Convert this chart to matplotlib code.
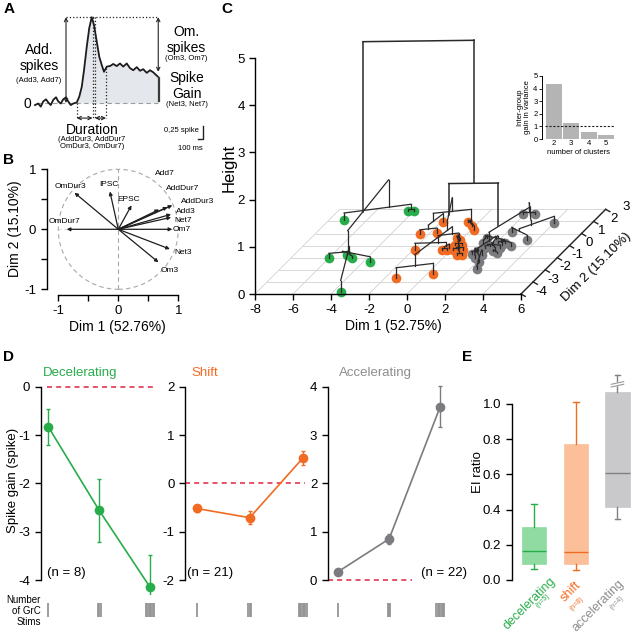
import matplotlib

matplotlib.use("Agg")
import matplotlib.pyplot as plt
import numpy as np
from matplotlib.patches import Circle

plt.rcParams["font.family"] = ["Liberation Sans", "DejaVu Sans"]
plt.rcParams["axes.linewidth"] = 1.0
plt.rcParams["axes.unicode_minus"] = False

W, H = 632, 639
GREEN = "#27ad4a"
ORANGE = "#f26b22"
GRAY = "#7b7b80"
RED = "#e2334f"

# ---- A: schematic PSTH (time in ms, rate in spikes)
trace_t = [-840, -775, -725, -675, -620, -575, -525, -475, -420, -375, -325, -275, -220,
           -175, -125, -75, -5, 45, 95, 140, 195, 245, 295, 340, 395, 445, 495, 540, 595,
           660, 725, 795, 860, 925, 995, 1060, 1125, 1195, 1260, 1325, 1395, 1460, 1525,
           1580, 1615]
trace_v = [-0.04, -0.01, -0.07, 0.03, 0.07, 0.01, -0.04, 0.06, 0.11, 0.03, -0.01, 0.07, 0.11,
           0.03, -0.04, -0.01, 0.01, 0.12, 0.31, 0.63, 1.08, 1.44, 1.65, 1.50, 1.18, 0.89,
           0.73, 0.60, 0.70, 0.71, 0.75, 0.71, 0.76, 0.70, 0.76, 0.67, 0.63, 0.69, 0.62,
           0.65, 0.58, 0.63, 0.59, 0.54, 0.51]
onset_t = -5
dur_marks = [310, 360, 580]

# ---- B: PCA variable loadings
load_names = ["OmDur3", "IPSC", "EPSC", "Add7", "AddDur7", "AddDur3", "Add3", "Net7",
              "Om7", "Net3", "Om3", "OmDur7"]
load_d1 = [-0.73, -0.14, 0.22, 0.68, 0.82, 0.90, 0.88, 0.88, 0.90, 0.86, 0.67, -0.86]
load_d2 = [0.61, 0.63, 0.40, 0.33, 0.37, 0.40, 0.25, 0.20, 0.0, -0.33, -0.55, 0.0]

# ---- C: cells on the factor map, and the hierarchical tree
green_d1 = [-7.2, -4.3, -4.0, -6.0, -5.24, -4.8, -3.6, -3.58]
green_d2 = [2.11, 2.83, 2.83, -1.03, -0.75, -1.03, -1.39, -3.86]
orange_d1 = [-1.87, -0.56, -0.17, 0.13, -2.45, -1.66, -1.88, -0.47, -0.21, -0.34, -0.08,
             -0.07, 0.28, 0.10, 0.36, 0.62, 0.55, 0.81, -0.20, 0.32, -1.41]
orange_d2 = [1.94, 1.94, 1.61, 1.33, 0.92, 1.06, -0.39, -0.39, -0.39, 0.64, 0.50, 0.08,
             0.08, -0.33, -0.33, -0.33, -0.75, -0.75, -0.19, -2.33, -2.69]
gray_d1 = [1.93, 2.55, 4.03, 2.26, 3.43, 1.27, 2.11, 2.38, 2.96, 1.28, 1.50, 1.68, 1.32,
           2.29, 2.56, 1.86, 2.14, 2.36, 1.86, 2.47, 1.68, 2.46]
gray_d2 = [2.58, 2.58, 1.83, 1.11, 0.50, 0.64, 0.23, 0.08, -0.06, -0.67, -0.47, -0.19, 0.23,
           -0.47, -0.61, -0.75, -1.39, -1.94, -0.06, -0.19, -1.03, 0.23]
# merges: (node a, node b, height); leaves 0-50, new nodes numbered from 51
merges = [
    (1, 2, 0.05), (4, 5, 0.05), (52, 3, 0.10), (53, 6, 0.12), (54, 7, 0.25), (0, 51, 0.15),
    (55, 56, 0.73),
    (9, 10, 0.04), (58, 11, 0.08), (12, 13, 0.10), (60, 8, 0.18), (59, 61, 0.35),
    (15, 16, 0.04), (63, 26, 0.08), (64, 14, 0.15), (17, 18, 0.03), (19, 20, 0.03),
    (21, 22, 0.03), (68, 23, 0.05), (24, 25, 0.04), (66, 67, 0.07), (69, 70, 0.08),
    (71, 72, 0.14), (65, 73, 0.30), (27, 28, 0.22), (74, 75, 0.45), (62, 76, 0.64),
    (29, 30, 0.05), (32, 33, 0.10), (79, 31, 0.15), (78, 80, 0.25), (35, 50, 0.03),
    (82, 36, 0.05), (83, 37, 0.08), (41, 34, 0.05), (47, 40, 0.04), (86, 48, 0.06),
    (38, 39, 0.04), (88, 49, 0.06), (42, 43, 0.03), (45, 46, 0.06), (91, 44, 0.10),
    (89, 92, 0.13), (90, 87, 0.10), (84, 85, 0.10), (94, 95, 0.15), (93, 96, 0.20),
    (81, 97, 0.38),
    (77, 98, 1.30), (57, 99, 4.33),
]
n_clusters = [2, 3, 4, 5]
var_gain = [4.35, 1.28, 0.55, 0.30]

# ---- D: spike gain vs number of GrC stims
stim_counts = [1, 3, 7]
dec_mean = [-0.83, -2.56, -4.15]
dec_err = [0.37, 0.65, 0.66]
shift_mean = [-0.52, -0.71, 0.52]
shift_err = [0.08, 0.14, 0.15]
acc_mean = [0.17, 0.85, 3.59]
acc_err = [0.04, 0.10, 0.42]

# ---- E: EI ratio per group
ei_groups = ["decelerating", "shift", "accelerating"]
ei_n = [5, 8, 4]
ei_lo = [0.06, 0.058, 0.345]
ei_q1 = [0.089, 0.091, 0.417]
ei_med = [0.166, 0.161, 0.61]
ei_q3 = [0.30, 0.771, 1.07]
ei_hi = [0.43, 1.013, 1.165]

fig = plt.figure(figsize=(W / 100, H / 100), dpi=100)


def px_axes(left, top, right, bottom):
    return fig.add_axes([left / W, 1 - bottom / H, (right - left) / W, (bottom - top) / H])


def ftext(x, y, s, **kw):
    kw.setdefault("ha", "center")
    kw.setdefault("va", "center")
    fig.text(x / W, 1 - y / H, s, **kw)


for lab, x, y in [("A", 9, 9), ("B", 9, 160), ("C", 227, 9), ("D", 9, 357), ("E", 467, 357)]:
    ftext(x, y, lab, fontsize=11, fontweight="bold")

# ================= A
axA = px_axes(20, 10, 215, 155)
axA.set_xlim(-1140, 2760)
axA.set_ylim(-1.0, 1.788)
axA.axis("off")
t = np.array(trace_t)
v = np.array(trace_v)
on = t >= onset_t
axA.fill_between(t[on], 0, v[on], color="#e4e7eb", lw=0)
axA.plot([t[0] + 40, t[-1]], [0, 0], ls=(0, (4, 3)), color="#9d9d9d", lw=0.8)
axA.plot(t, v, color="#1c1c1c", lw=1.3)
peak = v.max()
end_v = v[-1]
arrow_kw = dict(arrowstyle="<->", lw=0.8, color="#222222", shrinkA=0, shrinkB=0,
                mutation_scale=6)
axA.annotate("", xy=(-220, peak), xytext=(-220, 0), arrowprops=arrow_kw)
axA.plot([-220, t[-1] + 10], [peak, peak], ls=":", color="#222222", lw=0.9)
axA.annotate("", xy=(1625, peak), xytext=(1625, end_v + 0.09), arrowprops=arrow_kw)
axA.plot([1640, 1640], [0.03, end_v - 0.03], color="#3a3a3a", lw=1.6)
low = -0.29
axA.plot([onset_t, onset_t], [0, low], ls=":", color="#222222", lw=0.9)
for tm in dur_marks:
    top = peak if tm < 400 else np.interp(tm, t, v)
    axA.plot([tm, tm], [top, low], ls=":", color="#222222", lw=0.9)
axA.annotate("", xy=(onset_t, low), xytext=(dur_marks[0], low), arrowprops=arrow_kw)
axA.annotate("", xy=(dur_marks[1], low), xytext=(dur_marks[2], low), arrowprops=arrow_kw)
axA.plot([2520, 2520, 2420], [-0.45, -0.70, -0.70], color="#222222", lw=1.0)

ftext(39, 58, "Add.\nspikes", fontsize=10, linespacing=1.15)
ftext(39, 80, "(Add3, Add7)", fontsize=5.5)
ftext(27, 104, "0", fontsize=10)
ftext(186, 40, "Om.\nspikes", fontsize=10, linespacing=1.15)
ftext(186, 58, "(Om3, Om7)", fontsize=5.5)
ftext(187, 86, "Spike\nGain", fontsize=10, linespacing=1.15)
ftext(187, 105, "(Net3, Net7)", fontsize=5.5)
ftext(92, 130, "Duration", fontsize=10)
ftext(92, 143, "(AddDur3, AddDur7\nOmDur3, OmDur7)", fontsize=5.5, linespacing=1.1)
ftext(181, 130, "0,25 spike", fontsize=5.5)
ftext(190, 148, "100 ms", fontsize=5.5)

# ================= B
axB = px_axes(46.7, 163.3, 187.3, 295)
axB.set_xlim(-1.193, 1.15)
axB.set_ylim(-1.095, 1.1)
for s in ["top", "right"]:
    axB.spines[s].set_visible(False)
axB.spines["left"].set_bounds(-1, 1)
axB.spines["bottom"].set_bounds(-1, 1)
axB.set_xticks([-1, -0.5, 0, 0.5, 1], ["-1", "", "0", "", "1"])
axB.set_yticks([-1, -0.5, 0, 0.5, 1], ["-1", "", "0", "", "1"])
axB.tick_params(labelsize=9.5, length=4, width=1)
axB.add_patch(Circle((0, 0), 1, fill=False, ls=(0, (4, 3)), ec="#a8a8a8", lw=0.8))
axB.plot([0, 0], [-1, 1], ls=(0, (4, 3)), color="#a8a8a8", lw=0.8)
axB.plot([-1, 1], [0, 0], ls=(0, (4, 3)), color="#cfcfcf", lw=0.6)
for x, y in zip(load_d1, load_d2):
    axB.annotate("", xy=(x, y), xytext=(0, 0),
                 arrowprops=dict(arrowstyle="-|>", lw=0.9, color="#1e1e1e", shrinkA=0,
                                 shrinkB=0, mutation_scale=5))
label_at = {"OmDur3": (-0.79, 0.71), "IPSC": (-0.155, 0.74), "EPSC": (0.18, 0.5),
            "Add7": (0.77, 0.93), "AddDur7": (1.07, 0.68), "AddDur3": (1.32, 0.46),
            "Add3": (1.125, 0.29), "Net7": (1.08, 0.155), "Om7": (1.06, -0.01),
            "Net3": (1.08, -0.39), "Om3": (0.86, -0.68), "OmDur7": (-0.9, 0.13)}
for name in load_names:
    x, y = label_at[name]
    axB.text(x, y, name, fontsize=6, ha="center", va="center", clip_on=False)
axB.set_xlabel("Dim 1 (52.76%)", fontsize=10, labelpad=2)
axB.set_ylabel("Dim 2 (15.10%)", fontsize=10, labelpad=2)

# ================= C
KX, KY, D2F = 12.1 / 19, 12.1 / 47.2, -4.0


def proj(d1, d2, h):
    return d1 + KX * (np.asarray(d2) - D2F), h + KY * (np.asarray(d2) - D2F)


axC = px_axes(249.3, 29.7, 625.5, 305.8)
axC.set_xlim(-8.3, 11.5)
axC.set_ylim(-0.25, 5.6)
for s in ["top", "right"]:
    axC.spines[s].set_visible(False)
axC.spines["left"].set_position(("data", -8))
axC.spines["left"].set_bounds(0, 5)
axC.spines["bottom"].set_position(("data", 0))
axC.spines["bottom"].set_bounds(-8, 6)
axC.set_xticks(range(-8, 7, 2))
axC.set_yticks(range(0, 6))
axC.tick_params(labelsize=9.5, length=4, width=1)

grid_kw = dict(color="#d2d2d2", lw=0.6, zorder=1)
for d1 in range(-8, 7, 2):
    axC.plot(*proj(np.array([d1, d1]), [D2F, 3], 0), **grid_kw)
for d2 in range(-3, 4):
    axC.plot(*proj(np.array([-8, 6]), [d2, d2], 0), **grid_kw)
# Dim 2 axis
axC.plot(*proj(np.array([6, 6]), [D2F, 3], 0), color="#222222", lw=1.0)
for d2 in range(-4, 4):
    x0, y0 = proj(6, d2, 0)
    axC.plot([x0, x0 + 0.22], [y0, y0 - 0.05], color="#222222", lw=1.0, clip_on=False)
    axC.text(x0 + 1.05, y0 + 0.05, str(d2), fontsize=9.5, ha="center", va="center")
axC.text(9.98, 0.58, "Dim 2 (15.10%)", fontsize=9.5, rotation=45, ha="center", va="center")
ftext(393, 326, "Dim 1 (52.75%)", fontsize=10)
ftext(229, 168, "Height", fontsize=12, rotation=90)

leaf_d1 = np.array(green_d1 + orange_d1 + gray_d1)
leaf_d2 = np.array(green_d2 + orange_d2 + gray_d2)
n_leaf = len(leaf_d1)
members = {i: [i] for i in range(n_leaf)}
height = {i: 0.0 for i in range(n_leaf)}
for k, (a, b, h) in enumerate(merges):
    members[n_leaf + k] = members[a] + members[b]
    height[n_leaf + k] = h


def centre(node):
    idx = members[node]
    return leaf_d1[idx].mean(), leaf_d2[idx].mean()


for pts_d1, pts_d2, col in [(green_d1, green_d2, GREEN), (orange_d1, orange_d2, ORANGE),
                            (gray_d1, gray_d2, GRAY)]:
    px, py = proj(np.array(pts_d1), pts_d2, 0)
    axC.plot(px, py, "o", ms=7, color=col, mec="none", zorder=2)

for a, b, h in merges:
    lw = 1.1 if h > 1 else 0.9
    col = "#2a2a2a"
    tops = []
    for c in (a, b):
        cd1, cd2 = centre(c)
        x0, y0 = proj(cd1, cd2, height[c])
        x1, y1 = proj(cd1, cd2, h)
        axC.plot([x0, x1], [y0, y1], color=col, lw=lw, zorder=3)
        tops.append((x1, y1))
    axC.plot([tops[0][0], tops[1][0]], [tops[0][1], tops[1][1]], color=col, lw=lw, zorder=3)

# inset: inter-group gain in variance
axI = px_axes(541.7, 76, 615, 139)
axI.bar(n_clusters, var_gain, width=0.92, color="#b4b4b4")
axI.set_xlim(1.29, 5.53)
axI.set_ylim(0, 5)
axI.axhline(1, xmin=0.05, color="#222222", lw=0.8, ls=(0, (2, 1.5)))
for s in ["top", "right", "bottom"]:
    axI.spines[s].set_visible(False)
axI.spines["left"].set_linewidth(0.7)
axI.set_xticks(n_clusters)
axI.set_yticks(range(0, 6))
axI.tick_params(labelsize=5.5, length=2, width=0.6, pad=1)
axI.tick_params(axis="x", length=0)
axI.set_xlabel("number of clusters", fontsize=5.5, labelpad=1)
axI.set_ylabel("Inter-group\ngain in variance", fontsize=5.5, labelpad=2, linespacing=1.0)

# ================= D
panels = [
    ("Decelerating", dec_mean, dec_err, GREEN, (40.7, 157.7), (-0.15, 2.15), (-4, 0),
     (-0.03, 2.1), "(n = 8)", 47, 80),
    ("Shift", shift_mean, shift_err, ORANGE, (185, 308), (-0.22, 2.1), (-2, 2),
     (-0.22, 2.04), "(n = 21)", 187, 205),
    ("Accelerating", acc_mean, acc_err, GRAY, (327.7, 455.6), (-0.2, 2.3), (0, 4),
     (-0.2, 1.44), "(n = 22)", 421, 375),
]
pos = np.arange(len(stim_counts))
for title, mean, err, col, (l, r), xl, (ylo, yhi), (d0, d1_), ntxt, nx, tx in panels:
    ax = px_axes(l, 379.5, r, 594.5)
    ax.set_xlim(*xl)
    ax.set_ylim(ylo - 0.3, yhi + 0.15)
    for s in ["top", "right", "bottom"]:
        ax.spines[s].set_visible(False)
    ax.spines["left"].set_bounds(ylo, yhi)
    ax.set_xticks([])
    ax.set_yticks(range(ylo, yhi + 1))
    ax.tick_params(labelsize=9.5, length=4, width=1)
    ax.plot([d0, d1_], [0, 0], ls=(0, (3, 2.5)), color=RED, lw=1.2)
    ax.errorbar(pos, mean, yerr=err, fmt="-o", color=col, ms=7, lw=1.2, elinewidth=1.0,
                capsize=1.5, mec="none", zorder=3)
    tr = ax.get_xaxis_transform()
    for p, n in zip(pos, stim_counts):
        xs = p + (np.arange(n) - (n - 1) / 2) * 0.026
        ax.vlines(xs, -0.105, -0.04, color="#959595", lw=1.3, transform=tr, clip_on=False)
    ftext(nx, 573, ntxt, fontsize=9.5, ha="left")
    ftext(tx, 373, title, fontsize=9.5, color=col if col != GRAY else "#8d8d8d")
ftext(13, 480, "Spike gain (spike)", fontsize=9.5, rotation=90)
ftext(41, 611, "Number\nof GrC\nStims", fontsize=7, ha="right", linespacing=1.1)

# ================= E
axE = px_axes(511.7, 368.8, 632, 580)
stats = [dict(med=m, q1=a, q3=b, whislo=lo, whishi=hi, fliers=[])
         for m, a, b, lo, hi in zip(ei_med, ei_q1, ei_q3, ei_lo, ei_hi)]
bp = axE.bxp(stats, positions=[1, 2, 3], widths=0.58, patch_artist=True,
             showfliers=False, capwidths=0.14)
fills = ["#8fdba2", "#fbc099", "#c9c9cc"]
lines = [GREEN, ORANGE, "#7f7f84"]
for i in range(3):
    bp["boxes"][i].set(facecolor=fills[i], edgecolor=fills[i], lw=0.5)
    bp["medians"][i].set(color=lines[i], lw=1.0)
    for el in bp["whiskers"][2 * i:2 * i + 2] + bp["caps"][2 * i:2 * i + 2]:
        el.set(color=lines[i], lw=1.0, clip_on=False)
axE.fill([2.85, 3.15, 3.15, 2.85], [1.097, 1.112, 1.127, 1.112], color="white", zorder=4,
         clip_on=False)
for yb in (1.097, 1.112):
    axE.plot([2.85, 3.15], [yb, yb + 0.015], color="#9a9a9e", lw=0.8, zorder=5,
             clip_on=False)
axE.set_xlim(0.457, 3.35)
axE.set_ylim(0, 1.2)
for s in ["top", "right", "bottom"]:
    axE.spines[s].set_visible(False)
axE.spines["left"].set_bounds(0, 1.0)
axE.set_xticks([])
axE.set_yticks(np.arange(0, 1.01, 0.2), ["0.0", "0.2", "0.4", "0.6", "0.8", "1.0"])
axE.tick_params(labelsize=9.5, length=4, width=1)
ftext(478, 472, "EI ratio", fontsize=9.5, rotation=90)
lab_col = [GREEN, ORANGE, "#8d8d8d"]
lab_end = [(556, 581), (581, 585), (624, 584)]
n_end = [(550, 596), (584, 599), (624, 598)]
for i, g in enumerate(ei_groups):
    x, y = lab_end[i]
    fig.text(x / W, 1 - y / H, g, fontsize=9, color=lab_col[i], rotation=45,
             rotation_mode="anchor", ha="right", va="baseline")
    x, y = n_end[i]
    fig.text(x / W, 1 - y / H, f"(n={ei_n[i]})", fontsize=5, color=lab_col[i], rotation=45,
             rotation_mode="anchor", ha="right", va="baseline")

fig.savefig("out.png", dpi=100)
